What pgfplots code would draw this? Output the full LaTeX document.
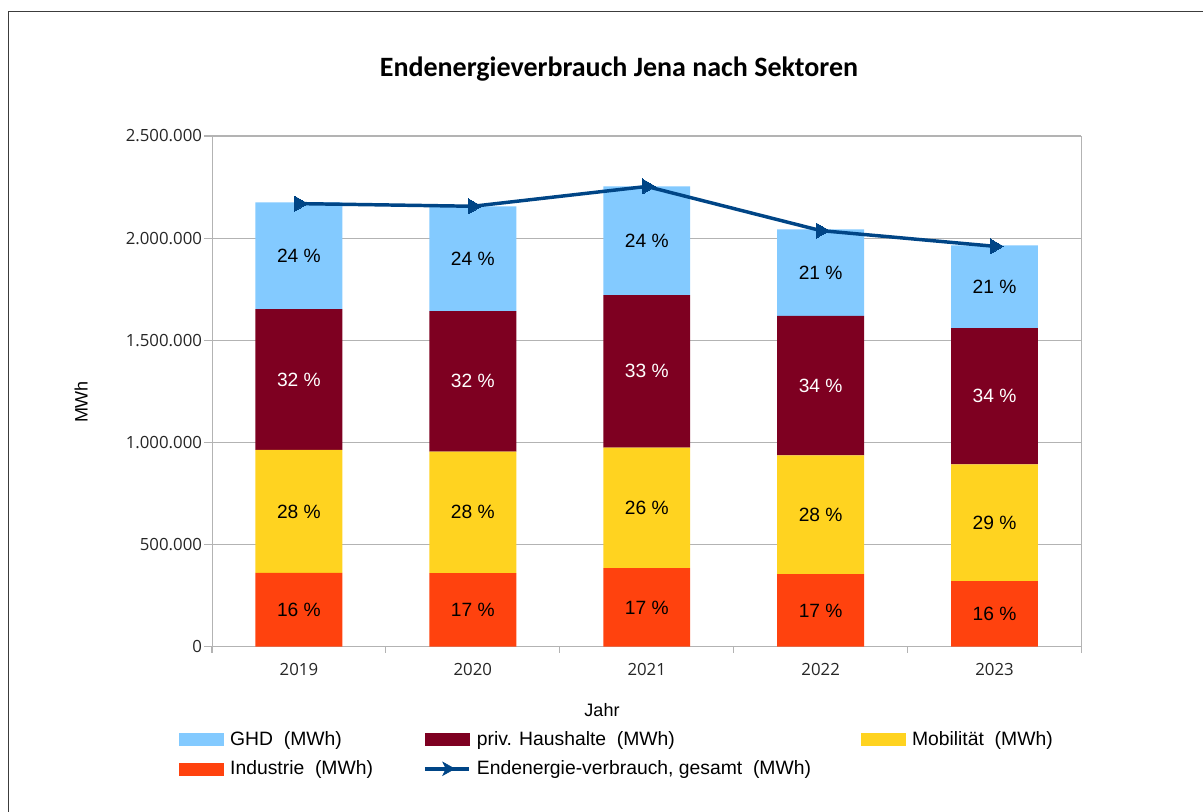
\documentclass[border=0pt]{standalone}
\usepackage{pgfplots}
\pgfplotsset{compat=1.18}
\usepackage{pgfplotstable}
\usepackage{fontspec}
\setmainfont{Liberation Sans}
\newfontfamily\titlefont{Carlito}
\newfontfamily\tickfont{Open Sans}

\definecolor{cghd}{HTML}{83CAFF}
\definecolor{chaus}{HTML}{7E0021}
\definecolor{cmob}{HTML}{FFD320}
\definecolor{cind}{HTML}{FF420E}
\definecolor{cline}{HTML}{004586}
\definecolor{cgrid}{HTML}{B3B3B3}
\definecolor{cframe}{HTML}{3C3C3C}

\pgfplotstableread[col sep=comma]{
x,ind,mob,haus,ghd,total,pind,pmob,phaus,pghd
0,361000,602000,690000,522000,2169000,16,28,32,24
1,360000,595000,688000,512000,2156000,17,28,32,24
2,384000,591000,746000,532000,2253000,17,26,33,24
3,355000,581000,683000,424000,2037000,17,28,34,21
4,321000,571000,668000,405000,1960000,16,29,34,21
}\datatable

\pgfplotsset{
  common/.style={
    at={(159pt,-485pt)}, anchor=south west,
    scale only axis, width=652.1pt, height=383pt,
    xmin=-0.5, xmax=4.5, ymin=0, ymax=2500000,
  },
  lbl/.style={draw=none, mark=none, forget plot,
    nodes near coords={\pgfplotspointmeta\ \%},
    point meta=explicit symbolic,
    every node near coord/.append style={anchor=center, font=\fontsize{14.4pt}{16pt}\selectfont, text=#1},
  },
}

\begin{document}
\begin{tikzpicture}
\useasboundingbox (0,0) rectangle (902.25pt,-609pt);
\draw[cframe, line width=0.9pt] (6.5pt,-612pt) -- (6.5pt,-8.8pt) -- (905pt,-8.8pt);
\node[font=\titlefont\bfseries\fontsize{21pt}{24pt}\selectfont] at (464.25pt,-51.75pt) {Endenergieverbrauch Jena nach Sektoren};
\node[rotate=90, font=\fontsize{13.5pt}{16pt}\selectfont] at (60.75pt,-301.5pt) {MWh};
\node[font=\fontsize{13.5pt}{16pt}\selectfont] at (451.5pt,-532.5pt) {Jahr};

\begin{axis}[common,
  ybar stacked, bar width=65.2pt,
  axis line style={cgrid},
  ymajorgrids, grid style={cgrid, line width=0.8pt},
  ytick={0,500000,1000000,1500000,2000000,2500000},
  scaled y ticks=false,
  yticklabel style={xshift=2pt, /pgf/number format/.cd, fixed, 1000 sep={.}, assume math mode=true},
  xtick={0,1,2,3,4}, xticklabels={2019,2020,2021,2022,2023},
  minor xtick={-0.5,0.5,1.5,2.5,3.5,4.5},
  major x tick style={draw=none},
  tick pos=left,
  tick align=outside, major tick length=6pt, minor tick length=4.5pt,
  tick style={cgrid, line width=0.8pt},
  tick label style={font=\tickfont\fontsize{12.6pt}{14pt}\selectfont, text=black!85},
  xticklabel style={yshift=-3pt},
]
\addplot[fill=cind, draw=none] table[x=x, y=ind] {\datatable};
\addplot[fill=cmob, draw=none] table[x=x, y=mob] {\datatable};
\addplot[fill=chaus, draw=none] table[x=x, y=haus] {\datatable};
\addplot[fill=cghd, draw=none] table[x=x, y=ghd] {\datatable};
\end{axis}

\begin{axis}[common, hide axis, clip=false,
  legend columns=3,
  legend cell align=left,
  legend style={at={(-0.0426,-0.155)}, anchor=north west, draw=none, fill=none,
    font=\fontsize{14.5pt}{16pt}\selectfont, row sep=6pt,
    /tikz/every odd column/.append style={column sep=2.8pt},
    /tikz/every even column/.append style={column sep=35.5pt}},
]
\addplot[lbl=black] table[x=x, y expr=\thisrow{ind}/2, meta=pind] {\datatable};
\addplot[lbl=black] table[x=x, y expr=\thisrow{ind}+\thisrow{mob}/2, meta=pmob] {\datatable};
\addplot[lbl=white] table[x=x, y expr=\thisrow{ind}+\thisrow{mob}+\thisrow{haus}/2, meta=phaus] {\datatable};
\addplot[lbl=black] table[x=x, y expr=\thisrow{ind}+\thisrow{mob}+\thisrow{haus}+\thisrow{ghd}/2, meta=pghd] {\datatable};
\addplot[cline, line width=2.6pt, mark=triangle*, mark size=6.5pt, mark options={rotate=-90, fill=cline, draw=cline, line width=0pt}, forget plot] table[x=x, y=total] {\datatable};

\addlegendimage{legend image code/.code={\fill[cghd] (0pt,-4.5pt) rectangle (33pt,4.5pt);}}
\addlegendentry{GHD\ \ (MWh)}
\addlegendimage{legend image code/.code={\fill[chaus] (0pt,-4.5pt) rectangle (33pt,4.5pt);}}
\addlegendentry{priv. Haushalte\ \ (MWh)}
\addlegendimage{legend image code/.code={\fill[cmob] (0pt,-4.5pt) rectangle (33pt,4.5pt);}}
\addlegendentry{Mobilität\ \ (MWh)}
\addlegendimage{legend image code/.code={\fill[cind] (0pt,-4.5pt) rectangle (33pt,4.5pt);}}
\addlegendentry{Industrie\ \ (MWh)}
\addlegendimage{legend image code/.code={\draw[cline, line width=2.6pt] (0pt,0pt) -- (33pt,0pt); \fill[cline] (13.5pt,5pt) -- (22.5pt,0pt) -- (13.5pt,-5pt) -- (16pt,0pt) -- cycle;}}
\addlegendentry{Endenergie-verbrauch, gesamt\ \ (MWh)}
\end{axis}
\end{tikzpicture}
\end{document}
